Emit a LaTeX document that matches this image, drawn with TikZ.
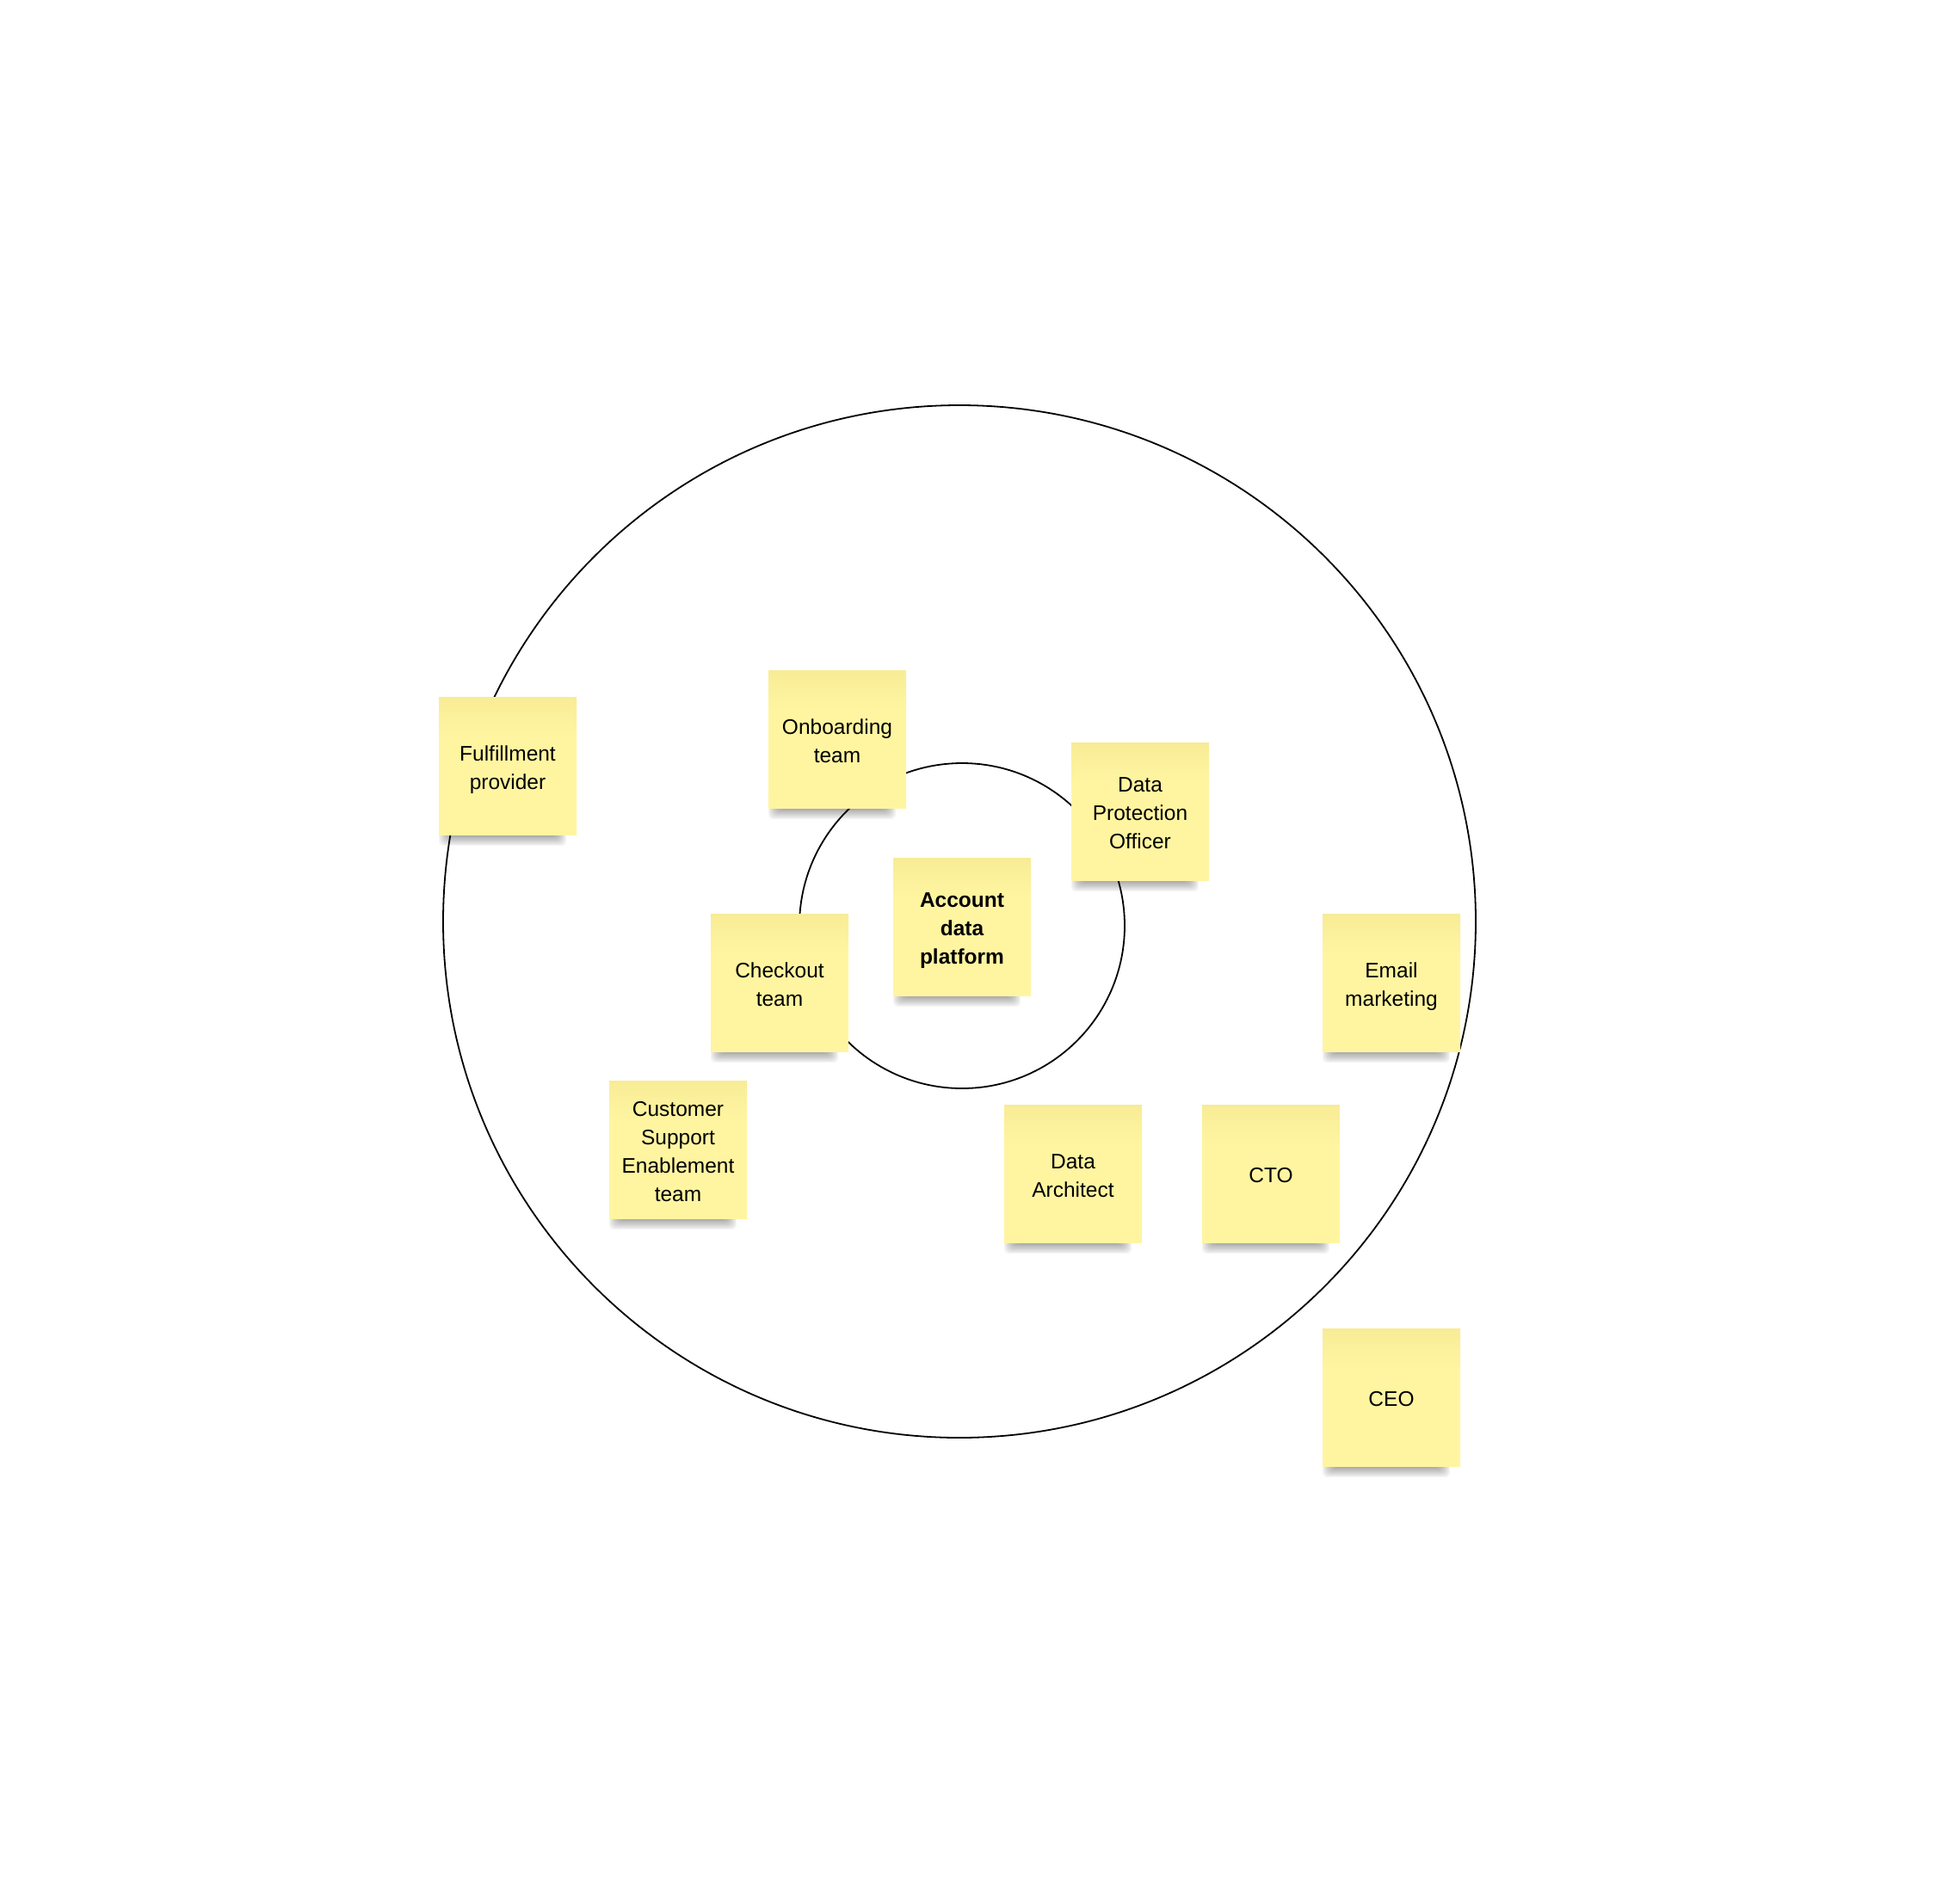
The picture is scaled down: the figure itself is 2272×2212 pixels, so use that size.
\documentclass[tikz,border=0pt]{standalone}
\usepackage{fontspec}
\setmainfont{Liberation Sans}
\usetikzlibrary{calc}
\definecolor{stickybody}{RGB}{255,245,161}
\definecolor{stickytop}{RGB}{248,236,150}
\pgfdeclareverticalshading{stickyshade}{100bp}{color(0bp)=(stickybody); color(25bp)=(stickybody); color(60bp)=(stickybody); color(75bp)=(stickytop); color(100bp)=(stickytop)}
\pgfdeclarelayer{bg}
\pgfdeclarelayer{shd}
\pgfsetlayers{bg,shd,main}
\newcommand\shadowof[1]{%
  \begin{pgfonlayer}{shd}
    \foreach \i in {0,...,9}{
      \fill[black, opacity=0.04, rounded corners=6pt]
        ($(#1.south west)+(0+\i*1.3,-22+\i*1.3)$) rectangle
        ($(#1.south east)+(-12-\i*1.3,13-\i*1.3)$);
    }
  \end{pgfonlayer}}
\newcommand\lines[1]{\raisebox{-4pt}[\height][\depth]{\begin{tabular}{@{}c@{}}#1\end{tabular}}}
\tikzset{
  sticky/.style={rectangle, shading=stickyshade, minimum width=160pt, minimum height=160pt,
    inner sep=0pt, font=\fontsize{24.5}{33}\selectfont, text=black},
  ring/.style={circle, draw=black, line width=1.8pt, inner sep=0pt}
}
\begin{document}
\begin{tikzpicture}[x=1pt,y=-1pt]
\useasboundingbox (0,0) rectangle (2272,2212);
\coordinate (co) at (1115,1071);
\coordinate (ci) at (1118,1076);
\begin{pgfonlayer}{bg}
\node[ring, minimum size=1200pt] (outer) at (co) {};
\node[ring, minimum size=378pt] (inner) at (ci) {};
\end{pgfonlayer}
\node[sticky] (ful) at (590,890) {\lines{Fulfillment\\provider}};
\node[sticky] (onb) at (973,859) {\lines{Onboarding\\team}};
\node[sticky] (dpo) at (1325,943) {\lines{Data\\Protection\\Officer}};
\node[sticky, font=\fontsize{24.5}{33}\selectfont\bfseries] (acc) at (1118,1077) {\lines{Account\\data\\platform}};
\node[sticky] (chk) at (906,1142) {\lines{Checkout\\team}};
\node[sticky] (eml) at (1617,1142) {\lines{Email\\marketing}};
\node[sticky] (cse) at (788,1336) {\lines{Customer\\Support\\Enablement\\team}};
\node[sticky] (darch) at (1247,1364) {\lines{Data\\Architect}};
\node[sticky] (cto) at (1477,1364) {\lines{CTO}};
\node[sticky] (ceo) at (1617,1624) {\lines{CEO}};
\shadowof{ful}\shadowof{onb}\shadowof{dpo}\shadowof{acc}\shadowof{chk}
\shadowof{eml}\shadowof{cse}\shadowof{darch}\shadowof{cto}\shadowof{ceo}
\end{tikzpicture}
\end{document}
